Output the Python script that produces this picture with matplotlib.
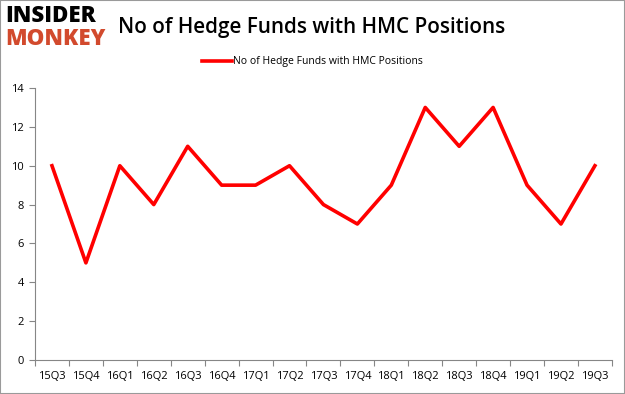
import matplotlib
matplotlib.use("Agg")
import matplotlib.pyplot as plt
from matplotlib.patches import Rectangle

quarters = ["15Q3", "15Q4", "16Q1", "16Q2", "16Q3", "16Q4", "17Q1", "17Q2", "17Q3",
            "17Q4", "18Q1", "18Q2", "18Q3", "18Q4", "19Q1", "19Q2", "19Q3"]
funds = [10, 5, 10, 8, 11, 9, 9, 10, 8, 7, 9, 13, 11, 13, 9, 7, 10]
yticks = [0, 2, 4, 6, 8, 10, 12, 14]
series_name = "No of Hedge Funds with HMC Positions"

plt.rcParams['font.family'] = ['Open Sans', 'DejaVu Sans']

fig = plt.figure(figsize=(6.25, 3.94), dpi=100)
ax = fig.add_axes([0.056, 0.0863, 0.923, 0.6903])
x = list(range(len(quarters)))
line, = ax.plot(x, funds, color="#ff0000", linewidth=2.6, label=series_name)
ax.set_xlim(-0.5, len(quarters) - 0.5)
ax.set_ylim(0, 14)
ax.set_yticks(yticks)
ax.set_xticks([i - 0.5 for i in range(len(quarters) + 1)], minor=False)
ax.set_xticklabels([])
ax.set_xticks(x, minor=True)
ax.set_xticklabels(quarters, minor=True)
ax.tick_params(axis='x', which='minor', length=0, pad=8, labelsize=8)
ax.tick_params(axis='x', which='major', length=4, color="#868686", direction='out')
ax.tick_params(axis='y', length=4, color="#868686", labelsize=8, pad=4)
for s in ["top", "right"]:
    ax.spines[s].set_visible(False)
for s in ["left", "bottom"]:
    ax.spines[s].set_color("#868686")

fig.text(0.188, 0.93, series_name, fontsize=14.9, fontweight='semibold', ha='left', va='center', color="black")
fig.legend(handles=[line], loc='center', bbox_to_anchor=(0.5, 0.843), frameon=False,
           fontsize=7.5, handlelength=2.8, handletextpad=0.1)

# logo
fig.text(0.008, 0.96, "INSIDER", fontsize=16, fontweight='heavy', color="black", ha='left', va='center')
fig.text(0.008, 0.9, "MONKEY", fontsize=16, fontweight='heavy', color="#d24a2d", ha='left', va='center')

fig.patches.append(Rectangle((0, 0), 1, 1, transform=fig.transFigure, fill=False,
                             edgecolor="#9a9a9a", linewidth=1.5))
fig.savefig("out.png", dpi=100)
